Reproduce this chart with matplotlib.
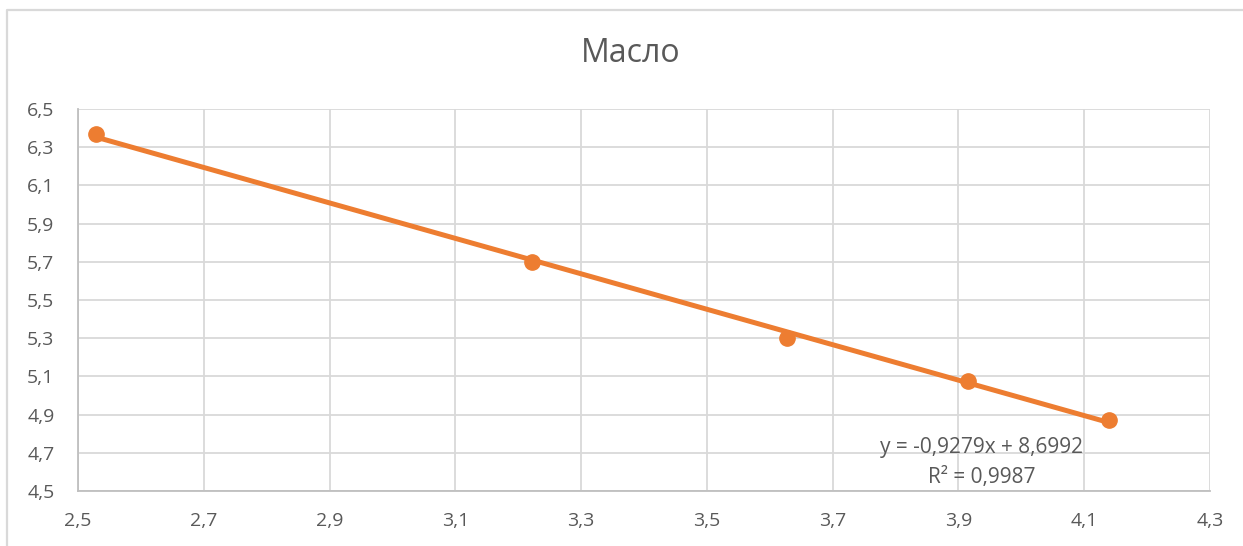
import matplotlib
matplotlib.use("Agg")
import matplotlib.pyplot as plt
import numpy as np
from matplotlib.lines import Line2D

x_vals = [2.529, 3.222, 3.627, 3.915, 4.139]
y_vals = [6.369, 5.699, 5.301, 5.076, 4.872]
slope = -0.9279
intercept = 8.6992
r2 = 0.9987
x_ticks = [2.5, 2.7, 2.9, 3.1, 3.3, 3.5, 3.7, 3.9, 4.1, 4.3]
y_ticks = [4.5, 4.7, 4.9, 5.1, 5.3, 5.5, 5.7, 5.9, 6.1, 6.3, 6.5]
title = "Масло"

plt.rcParams['font.family'] = ['Open Sans', 'DejaVu Sans']
txt = '#595959'
orange = '#ED7D31'
grid = '#d9d9d9'

fig = plt.figure(figsize=(12.43, 5.46), dpi=100)
fig.patch.set_facecolor('white')
W, H = 1243, 546
fig.lines.append(Line2D([7/W, 7/W, 1.0], [0.0, 1-10/H, 1-10/H], transform=fig.transFigure,
                        color=grid, linewidth=1.6))
ax = fig.add_axes([78/W, 1-491/H, (1210-78)/W, (491-109)/H])
ax.set_xlim(2.5, 4.3)
ax.set_ylim(4.5, 6.5)
ax.set_xticks(x_ticks)
ax.set_yticks(y_ticks)
fmt = lambda v: f"{v:.1f}".replace('.', ',')
ax.set_xticklabels([fmt(v) for v in x_ticks])
ax.set_yticklabels([fmt(v) for v in y_ticks])
ax.tick_params(axis='both', length=0, labelsize=14, colors=txt)
ax.tick_params(axis='y', pad=17)
ax.tick_params(axis='x', pad=15)
ax.grid(True, color=grid, linewidth=1.3)
ax.set_axisbelow(True)
for s in ['top', 'right']:
    ax.spines[s].set_visible(False)
for s in ['left', 'bottom']:
    ax.spines[s].set_color('#bfbfbf')
    ax.spines[s].set_linewidth(1.3)

xl = np.array([min(x_vals), max(x_vals)])
ax.plot(xl, slope * xl + intercept, color=orange, linewidth=3.6, solid_capstyle='butt', zorder=3)
ax.plot(x_vals, y_vals, 'o', color=orange, markersize=11, zorder=4)

eq = f"y = {slope:.4f}x + {intercept:.4f}".replace('.', ',')
ax.text(982/W, 1-448/H, eq, transform=fig.transFigure, ha='center', va='center',
        fontsize=15, color=txt)
ax.text(982/W, 1-477/H, f"R² = {r2:.4f}".replace('.', ','), transform=fig.transFigure,
        ha='center', va='center', fontsize=15, color=txt)

fig.text(631/W, 1-53/H, title, ha='center', va='center', fontsize=23, color=txt)

fig.savefig('out.png', dpi=100)
